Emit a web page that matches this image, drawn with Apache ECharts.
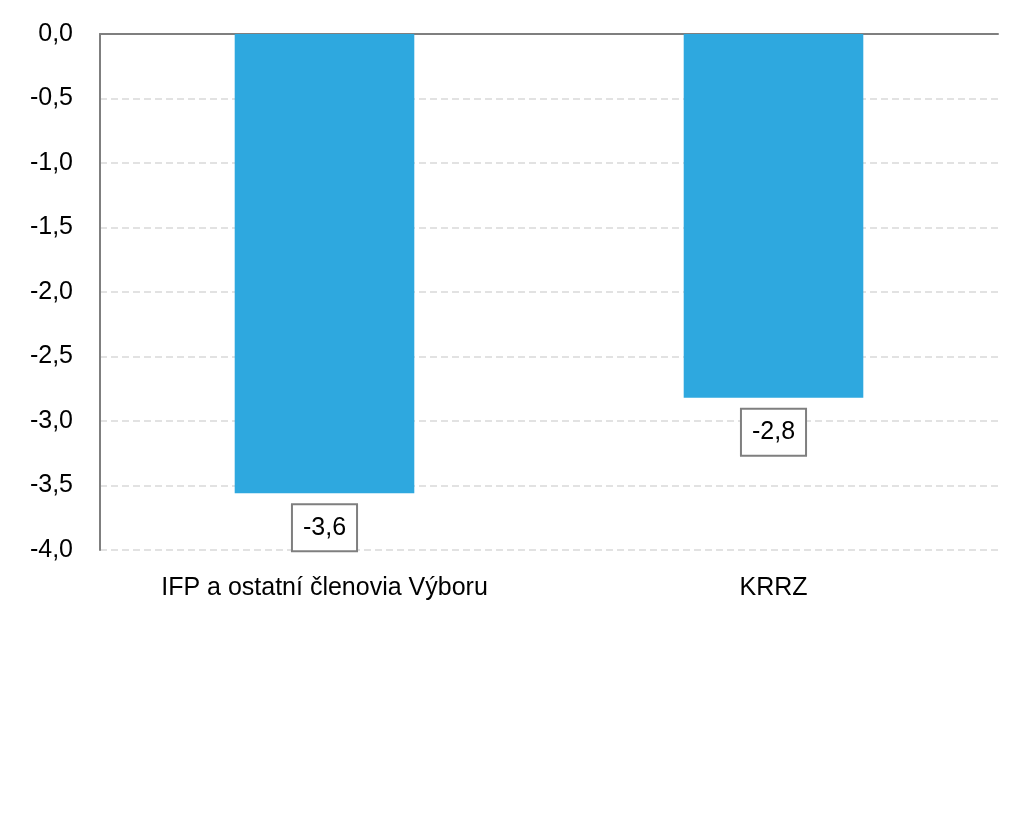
<!DOCTYPE html>
<html>
<head>
<meta charset="utf-8">
<script src="https://cdn.jsdelivr.net/npm/echarts@6/dist/echarts.min.js"></script>
<style>
  html, body { margin: 0; padding: 0; background: #fff; }
  #main { width: 1030px; height: 824px; }
</style>
</head>
<body>
<div id="main"></div>
<script>
var categories = ['IFP a ostatní členovia Výboru', 'KRRZ'];
var values = [-3.56, -2.82];
var labels = ['-3,6', '-2,8'];

var font = "'Liberation Sans', Arial, sans-serif";

var myChart = echarts.init(document.getElementById('main'));
var option = {
    animation: false,
    grid: { left: 100, right: 32, top: 34, bottom: 274 },
    xAxis: [
        {
            type: 'category',
            data: categories,
            position: 'top',
            axisLine: { show: true, onZero: false, lineStyle: { color: '#7f7f7f', width: 2 } },
            axisTick: { show: false },
            axisLabel: { show: false }
        },
        {
            type: 'category',
            data: categories,
            position: 'bottom',
            axisLine: { show: false },
            axisTick: { show: false },
            axisLabel: { color: '#000', fontFamily: font, fontSize: 25, margin: 26, interval: 0 }
        }
    ],
    yAxis: {
        type: 'value',
        min: -4,
        max: 0,
        interval: 0.5,
        axisLine: { show: true, lineStyle: { color: '#7f7f7f', width: 2 } },
        axisTick: { show: false },
        axisLabel: {
            color: '#000', fontFamily: font, fontSize: 25, margin: 27,
            formatter: function (v) { return v.toFixed(1).replace('.', ','); }
        },
        splitLine: { show: true, lineStyle: { color: '#d9d9d9', width: 1.5, type: [7, 4] } }
    },
    series: [
        {
            type: 'bar',
            xAxisIndex: 0,
            data: values,
            barCategoryGap: '60%',
            itemStyle: { color: '#2ea8df' },
            label: {
                show: true,
                position: 'bottom',
                distance: 12,
                color: '#000',
                fontFamily: font,
                fontSize: 25,
                lineHeight: 25,
                borderColor: '#7f7f7f',
                borderWidth: 2,
                backgroundColor: '#fff',
                padding: [10, 10, 10, 10],
                formatter: function (p) { return labels[p.dataIndex]; }
            }
        }
    ]
};
myChart.setOption(option);
</script>
</body>
</html>
